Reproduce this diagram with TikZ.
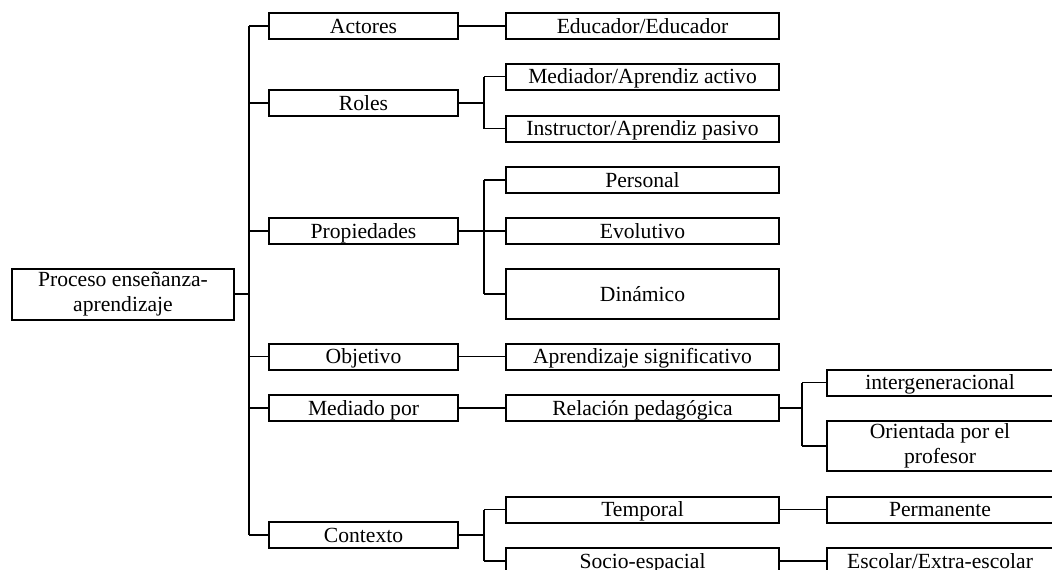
\documentclass[tikz,border=0pt]{standalone}
\usepackage{fontspec}
\setmainfont{Liberation Serif}
\usetikzlibrary{calc}
\tikzset{
	caja/.style={draw, line width=1pt, inner sep=1pt, align=center, font=\fontsize{10.8}{12.5}\selectfont},
	linea/.style={caja, minimum height=13pt, text height=7.6pt, text depth=0.6pt},
	nivA/.style={linea, minimum width=94.5pt},
	nivB/.style={linea, minimum width=136.5pt},
	nivC/.style={linea, minimum width=113pt},
	rama/.style={line width=0.8pt}
}

\begin{document}
\begin{tikzpicture}[x=0.5pt, y=-0.5pt]
	%%%%% START %%%%%
	\useasboundingbox (0, 0) rectangle (1052, 569);
	\clip (0, 0) rectangle (1052, 569);

	\coordinate (t0) at (249, 0);
	\coordinate (t1) at (484, 0);
	\coordinate (t2) at (802, 0);

	\node[caja, minimum width=111pt, minimum height=25.5pt] (proc) at (123, 294) {Proceso enseñanza-\\aprendizaje};

	\node[nivA] (act) at (363.5, 26) {Actores};
	\node[nivA] (rol) at (363.5, 103) {Roles};
	\node[nivA] (prop) at (363.5, 231) {Propiedades};
	\node[nivA] (obj) at (363.5, 356.5) {Objetivo};
	\node[nivA] (medp) at (363.5, 408) {Mediado por};
	\node[nivA] (ctx) at (363.5, 535) {Contexto};

	\node[nivB] (edu) at (642.5, 26) {Educador/Educador};
	\node[nivB] (medi) at (642.5, 76.5) {Mediador/Aprendiz activo};
	\node[nivB] (inst) at (642.5, 128.5) {Instructor/Aprendiz pasivo};
	\node[nivB] (pers) at (642.5, 180) {Personal};
	\node[nivB] (evol) at (642.5, 231) {Evolutivo};
	\node[nivB, minimum height=25pt] (dina) at (642.5, 294) {Dinámico};
	\node[nivB] (apre) at (642.5, 356.5) {Aprendizaje significativo};
	\node[nivB] (rel) at (642.5, 408) {Relación pedagógica};
	\node[nivB] (temp) at (642.5, 509.5) {Temporal};
	\node[nivB] (soc) at (642.5, 561) {Socio-espacial};

	\node[nivC] (inter) at (940, 382.5) {intergeneracional};
	\node[caja, minimum width=113pt, minimum height=25pt] (orie) at (940, 446) {Orientada por el\\profesor};
	\node[nivC] (perm) at (940, 509.5) {Permanente};
	\node[nivC] (esc) at (940, 561) {Escolar/Extra-escolar};

	% tronco principal
	\draw[rama] (proc.east) -- (proc.east -| t0);
	\draw[rama] (act.west -| t0) -- (ctx.west -| t0);
	\draw[rama] (act.west -| t0) -- (act.west);
	\draw[rama] (rol.west -| t0) -- (rol.west);
	\draw[rama] (prop.west -| t0) -- (prop.west);
	\draw[rama] (obj.west -| t0) -- (obj.west);
	\draw[rama] (medp.west -| t0) -- (medp.west);
	\draw[rama] (ctx.west -| t0) -- (ctx.west);

	% segundo nivel
	\draw[rama] (act.east) -- (edu.west);

	\draw[rama] (rol.east) -- (rol.east -| t1);
	\draw[rama] (medi.west -| t1) -- (inst.west -| t1);
	\draw[rama] (medi.west -| t1) -- (medi.west);
	\draw[rama] (inst.west -| t1) -- (inst.west);

	\draw[rama] (prop.east) -- (prop.east -| t1);
	\draw[rama] (pers.west -| t1) -- (dina.west -| t1);
	\draw[rama] (pers.west -| t1) -- (pers.west);
	\draw[rama] (evol.west -| t1) -- (evol.west);
	\draw[rama] (dina.west -| t1) -- (dina.west);

	\draw[rama] (obj.east) -- (apre.west);
	\draw[rama] (medp.east) -- (rel.west);

	\draw[rama] (ctx.east) -- (ctx.east -| t1);
	\draw[rama] (temp.west -| t1) -- (soc.west -| t1);
	\draw[rama] (temp.west -| t1) -- (temp.west);
	\draw[rama] (soc.west -| t1) -- (soc.west);

	% tercer nivel
	\draw[rama] (rel.east) -- (rel.east -| t2);
	\draw[rama] (inter.west -| t2) -- (orie.west -| t2);
	\draw[rama] (inter.west -| t2) -- (inter.west);
	\draw[rama] (orie.west -| t2) -- (orie.west);

	\draw[rama] (temp.east) -- (perm.west);
	\draw[rama] (soc.east) -- (esc.west);
	%%%%% END %%%%%
\end{tikzpicture}
\end{document}
